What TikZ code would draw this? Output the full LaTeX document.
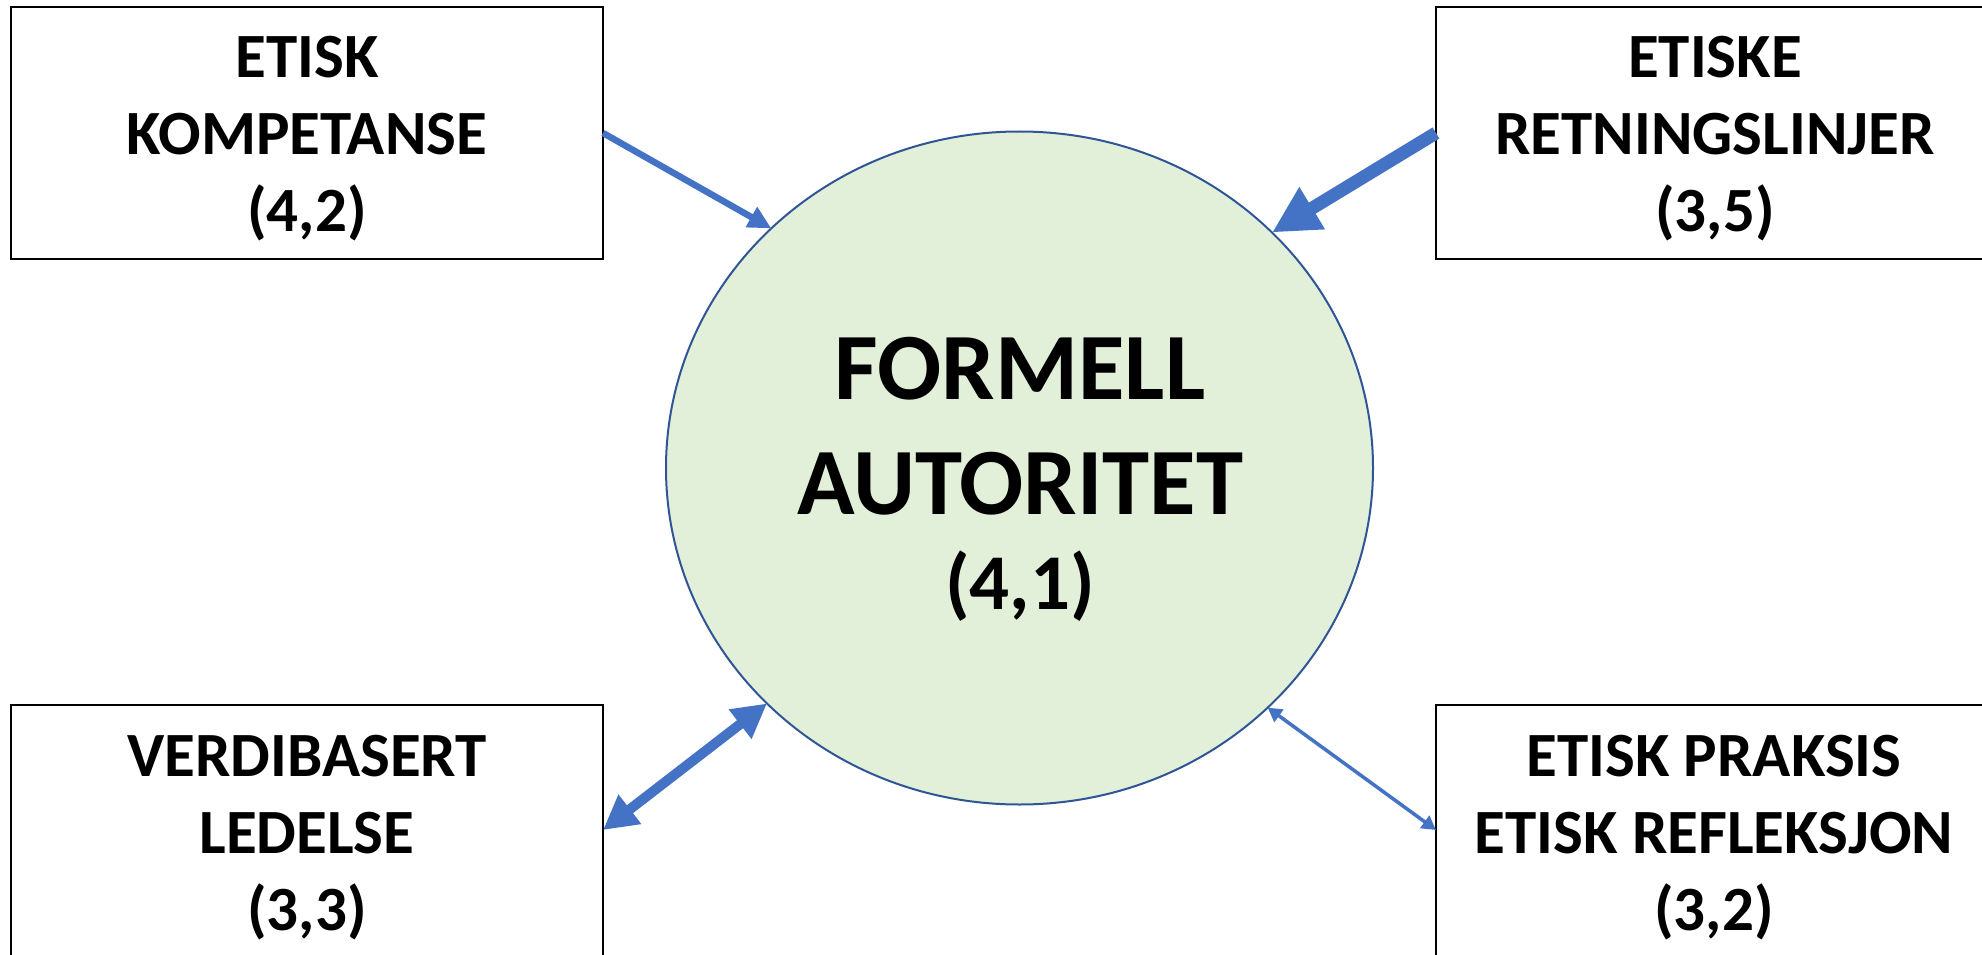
\documentclass[tikz,border=0pt]{standalone}
\usepackage{fontspec}
\setmainfont{Carlito}
\usetikzlibrary{arrows.meta,shapes.geometric,calc}
\definecolor{arrblue}{HTML}{4472C4}
\definecolor{eborder}{HTML}{2F5597}
\definecolor{efill}{HTML}{E2F0D9}
\begin{document}
\begin{tikzpicture}[x=1pt,y=-1pt,
  box/.style={draw=black, line width=2pt, fill=white, minimum width=592pt, minimum height=270pt, inner sep=0pt, outer sep=0pt},
  lbl/.style={align=center, inner sep=0pt, font=\bfseries\fontsize{63}{76.7}\selectfont},
  arr/.style={draw=arrblue, fill=arrblue},
]
\useasboundingbox (0,0) rectangle (1982,955);
\fill[white] (0,0) rectangle (1982,955);
% boxes
\node[box, minimum height=252pt] (b1) at (307,133) {};
\node[box, minimum height=252pt] (b2) at (1732,133) {};
\node[box] (b3) at (307,840) {};
\node[box] (b4) at (1732,840) {};
% labels
\node[lbl] (l1) at (307,138.7) {ETISK\\KOMPETANSE\\(4,2)};
\node[lbl] (l2) at (1715,138.7) {ETISKE\\RETNINGSLINJER\\(3,5)};
\node[lbl] (l3) at (307,837.5) {VERDIBASERT\\LEDELSE\\(3,3)};
\node[lbl] (l4) at (1714,837.5) {ETISK PRAKSIS\\ETISK REFLEKSJON\\(3,2)};
% central ellipse
\node[ellipse, draw=eborder, fill=efill, line width=2pt, minimum width=707pt, minimum height=673pt, inner sep=0pt, outer sep=0pt] (e) at (1019.5,468) {};
\node[align=center, inner sep=0pt, font=\bfseries\fontsize{95}{115}\selectfont] (t) at (1020,479) {FORMELL\\AUTORITET\\[-20pt]{\fontsize{79}{95}\selectfont (4,1)}};
% connectors
\coordinate (b3a) at ([yshift=-125pt]b3.north east);
\coordinate (b4a) at ([yshift=-125pt]b4.north west);
\draw[arr, line width=6.5pt, -{Triangle[length=23pt,width=22pt]}] (b1.east) -- (e.136.5);
\draw[arr, line width=13pt, -{Triangle[length=47pt,width=46pt]}] (b2.west) -- (e.43.5);
\draw[arr, line width=10pt, {Triangle[length=34pt,width=35pt]}-{Triangle[length=34pt,width=35pt]}] (b3a) -- (e.223.5);
\draw[arr, line width=3.5pt, {Triangle[length=14pt,width=15pt]}-{Triangle[length=14pt,width=15pt]}] (e.316.5) -- (b4a);
\end{tikzpicture}
\end{document}
